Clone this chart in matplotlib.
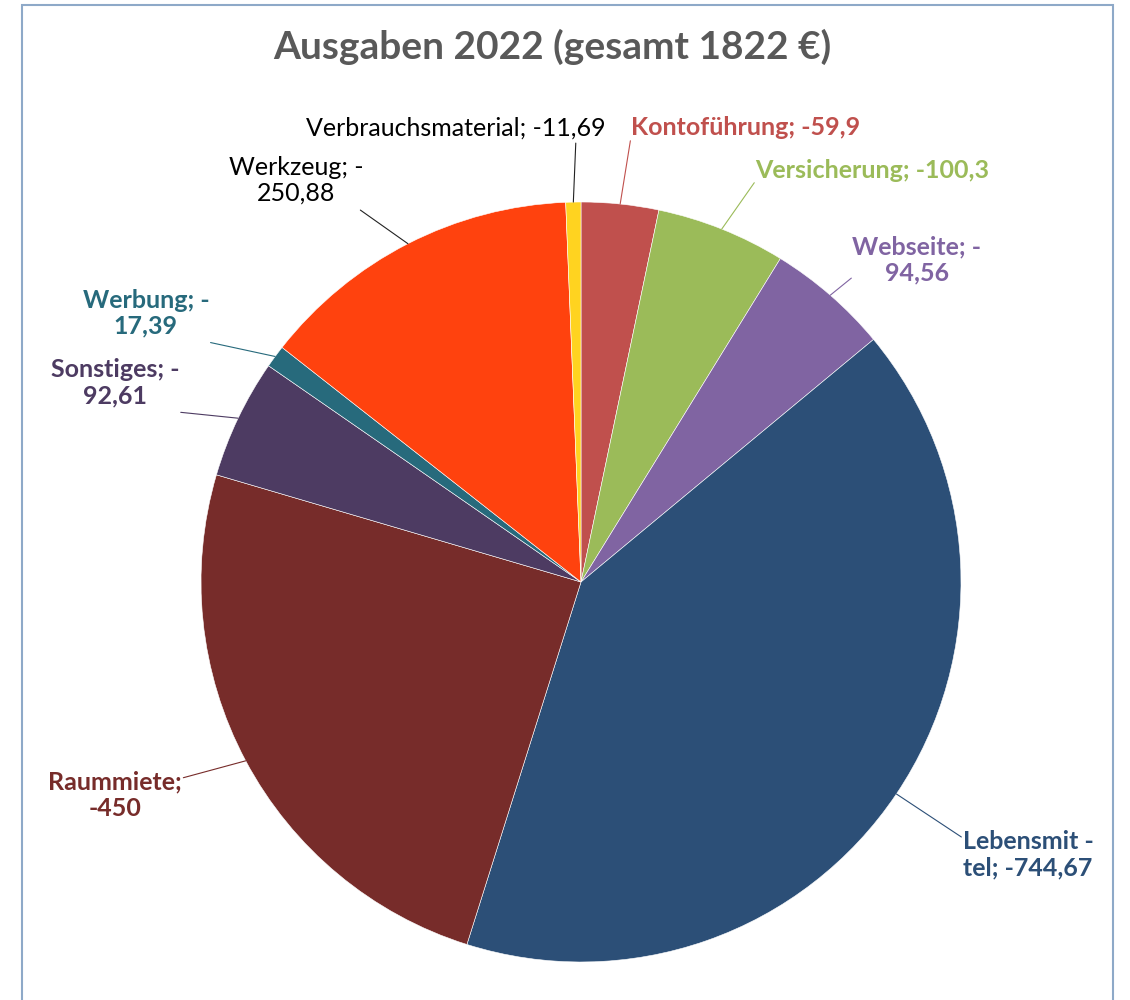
import matplotlib
matplotlib.use("Agg")
import matplotlib.pyplot as plt
import numpy as np

plt.rcParams['font.family'] = ['Lato', 'DejaVu Sans']

categories = ['Kontoführung', 'Versicherung', 'Webseite', 'Lebensmittel', 'Raummiete',
              'Sonstiges', 'Werbung', 'Werkzeug', 'Verbrauchsmaterial']
values = [59.9, 100.3, 94.56, 744.67, 450, 92.61, 17.39, 250.88, 11.69]
labels = ['Kontoführung; -59,9', 'Versicherung; -100,3', 'Webseite; -\n94,56',
          'Lebensmit -\ntel; -744,67', 'Raummiete;\n-450', 'Sonstiges; -\n92,61',
          'Werbung; -\n17,39', 'Werkzeug; -\n250,88', 'Verbrauchsmaterial; -11,69']
colors = ['#C0504D', '#9BBB59', '#8064A2', '#2C4F77', '#772C2A',
          '#4D3B62', '#276A7C', '#FF420E', '#FFD320']
# label text positions (data coords, pie radius = 1)
label_pos = [(0.432, 1.195), (0.766, 1.084), (0.884, 0.847), (1.176, -0.718),
             (-1.226, -0.561), (-1.226, 0.524), (-1.145, 0.708), (-0.75, 1.058),
             (-0.329, 1.195)]
# where the leader line leaves the label (fraction of the text box)
line_rel = [(0.0, 0.0), (0.0, 0.0), (0.0, 0.15), (0.0, 0.85), (1.0, 0.85),
            (1.0, -0.1), (1.0, -0.1), (0.97, -0.1), (0.9, -0.1)]
bold = [True, True, True, True, True, True, True, False, False]

fig = plt.figure(figsize=(11.3, 10), dpi=100)
# chart area border
fig.patches.append(plt.Rectangle((22 / 1130, -0.01), (1113 - 22) / 1130, 1.0 - 5 / 1000 + 0.01,
                                 transform=fig.transFigure, fill=False,
                                 edgecolor='#8EA9C8', linewidth=1.5))

ax = fig.add_axes([(581 - 380) / 1130, (418 - 380) / 1000, 760 / 1130, 760 / 1000])
wedges, _ = ax.pie(values, colors=colors, startangle=90, counterclock=False,
                   radius=1, wedgeprops=dict(edgecolor='white', linewidth=0.4))
ax.set_xlim(-1, 1)
ax.set_ylim(-1, 1)
ax.set_aspect('equal')
ax.axis('off')

for w, lab, pos, rel, col, b in zip(wedges, labels, label_pos, line_rel, colors, bold):
    ang = np.deg2rad((w.theta1 + w.theta2) / 2)
    tcol = col if b else 'black'
    lcol = col if b else '#222222'
    ax.annotate(lab, xy=(np.cos(ang), np.sin(ang)), xytext=pos,
                ha='center', va='center', fontsize=18, color=tcol,
                fontweight='bold' if b else 'normal', linespacing=1.15,
                annotation_clip=False,
                arrowprops=dict(arrowstyle='-', color=lcol, lw=0.8, relpos=rel,
                                patchA=None, shrinkA=1, shrinkB=0))

fig.text(552 / 1130, 1 - 47 / 1000, 'Ausgaben 2022 (gesamt 1822 €)', ha='center', va='center',
         fontsize=28, fontweight='bold', color='#595959')

fig.savefig('out.png', dpi=100)
